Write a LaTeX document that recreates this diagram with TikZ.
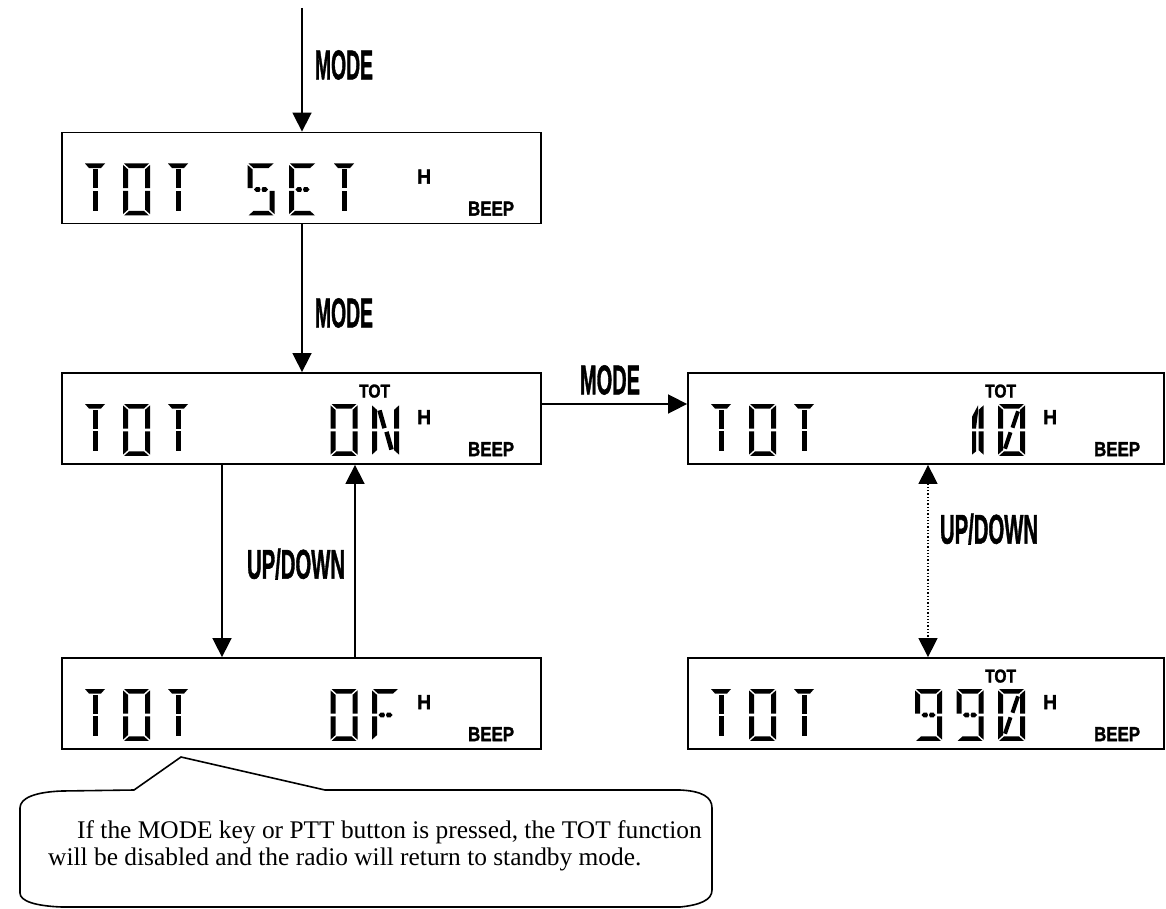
\documentclass[tikz,border=0pt]{standalone}
\usepackage{fontspec}
\setmainfont{Liberation Serif}
\newfontfamily\lsans[BoldFeatures={FakeBold=1.6}]{Liberation Sans}
\usepackage{graphicx}
\usetikzlibrary{arrows.meta,calc}
\newcommand\lbl[3]{\resizebox{#1pt}{#2pt}{\lsans\bfseries #3}}
% segments, local coordinates (y down), cell 27 x 57
\newcommand\segA{\fill (1,0)--(26,0)--(21,5)--(6,5)--cycle;}
\newcommand\segD{\fill (1,57)--(26,57)--(21,52)--(6,52)--cycle;}
\newcommand\segF{\fill (0,1.5)--(5,6.5)--(5,27)--(0,27)--cycle;}
\newcommand\segE{\fill (0,30)--(5,30)--(5,50.5)--(0,55.5)--cycle;}
\newcommand\segB{\fill (27,1.5)--(27,27)--(22,27)--(22,6.5)--cycle;}
\newcommand\segC{\fill (27,30)--(27,55.5)--(22,50.5)--(22,30)--cycle;}
\newcommand\segG{\fill (6.5,28.5)--(8.5,26)--(12,26)--(13,28.5)--(12,31)--(8.5,31)--cycle;
  \fill (14,28.5)--(15,26)--(18.5,26)--(20.5,28.5)--(18.5,31)--(15,31)--cycle;}
\newcommand\chT{\fill (3.5,0)--(23.5,0)--(19.5,5)--(7.5,5)--cycle;
  \fill (11,6.5)--(16,6.5)--(16,27)--(11,27)--cycle;
  \fill (11,30)--(16,30)--(16,52)--(11,52)--cycle;}
\newcommand\chO{\segA\segB\segC\segD\segE\segF}
\newcommand\chZ{\chO\draw[line width=4pt] (7,49)--(12.5,31) (14.5,26)--(20,8);}
\newcommand\chN{\segB\segC\segE\segF\draw[line width=4.5pt] (7.5,7)--(12.5,26.5) (14.5,30.5)--(19.5,50);}
\newcommand\chS{\segA\segF\segG\segC\segD}
\newcommand\chE{\segA\segF\segE\segG\segD}
\newcommand\chF{\segA\segF\segE\segG}
\newcommand\chNine{\segA\segB\segC\segD\segF\segG}
\newcommand\chOne{\segB\segC
  \fill (21.5,1.5)--(21.5,9)--(19.5,27)--(15.5,27)--(15.5,14)--cycle;
  \fill (15.5,30)--(19.5,30)--(19.5,52)--(15.5,55.5)--cycle;}
\newcommand\glyph[3]{\begin{scope}[shift={(#1,#2)},yscale=0.912]#3\end{scope}}
\begin{document}
\begin{tikzpicture}[x=1pt,y=-1pt,
  lcd/.style={draw,line width=1.8pt,minimum height=91pt,inner sep=0pt},
  lbox/.style={lcd,minimum width=479pt},
  rbox/.style={lcd,minimum width=476pt},
  arr/.style={line width=1.6pt,-{Triangle[width=19pt,length=19pt]}},
  darr/.style={line width=1.3pt,dotted,{Triangle[width=19pt,length=19pt]}-{Triangle[width=19pt,length=19pt]}},
  lab/.style={inner sep=0pt,anchor=center}]
\useasboundingbox (0,0) rectangle (1166,909);
% boxes
\node[lbox] (b1) at (301.5,178) {};
\node[lbox] (b2) at (301.5,418.5) {};
\node[lbox] (b3) at (301.5,703.5) {};
\node[rbox] (b4) at (926,418.5) {};
\node[rbox] (b5) at (926,703.5) {};
% small labels
\foreach \b in {b1,b2,b3,b4,b5}{
  \node[lab] (h\b) at ($(\b.north west)+(363,45)$) {\lbl{14}{14}{H}};
  \node[lab] (bp\b) at ($(\b.north west)+(430,77)$) {\lbl{46}{14}{BEEP}};
}
\foreach \b in {b2,b4,b5}{
  \node[lab] (t\b) at ($(\b.north west)+(313.5,19)$) {\lbl{31}{13}{TOT}};
}
% segment texts
% box1 TOT SET
\glyph{81.5}{163.5}{\chT}\glyph{123}{163.5}{\chO}\glyph{164.5}{163.5}{\chT}
\glyph{247.5}{163.5}{\chS}\glyph{289}{163.5}{\chE}\glyph{330.5}{163.5}{\chT}
% box2 TOT ON
\glyph{81.5}{404}{\chT}\glyph{123}{404}{\chO}\glyph{164.5}{404}{\chT}
\glyph{330.5}{404}{\chO}\glyph{372}{404}{\chN}
% box3 TOT OF
\glyph{81.5}{689}{\chT}\glyph{123}{689}{\chO}\glyph{164.5}{689}{\chT}
\glyph{330.5}{689}{\chO}\glyph{372}{689}{\chF}
% box4 TOT 10
\glyph{707.5}{404}{\chT}\glyph{749}{404}{\chO}\glyph{790.5}{404}{\chT}
\glyph{956.5}{404}{\chOne}\glyph{998}{404}{\chZ}
% box5 TOT 990
\glyph{707.5}{689}{\chT}\glyph{749}{689}{\chO}\glyph{790.5}{689}{\chT}
\glyph{915}{689}{\chNine}\glyph{956.5}{689}{\chNine}\glyph{998}{689}{\chZ}
% connectors
\coordinate (top) at (302,8);
\draw[arr] (top) -- (top |- b1.north);
\node[lab] (m1) at (344,65) {\lbl{58}{29}{MODE}};
\draw[arr] ([xshift=0.5pt]b1.south) -- ([xshift=0.5pt]b2.north);
\node[lab] (m2) at (344,313) {\lbl{58}{29}{MODE}};
\draw[arr] ([yshift=14.5pt]b2.east) -- ([yshift=14.5pt]b4.west);
\node[lab] (m3) at (610,380) {\lbl{60}{29}{MODE}};
\draw[arr] ([xshift=-79.5pt]b2.south) -- ([xshift=-79.5pt]b3.north);
\draw[arr] ([xshift=53.5pt]b3.north) -- ([xshift=53.5pt]b2.south);
\node[lab] (u1) at (296,564) {\lbl{98}{30}{UP/DOWN}};
\draw[darr] ([xshift=2pt]b4.south) -- ([xshift=2pt]b5.north);
\node[lab] (u2) at (989,529) {\lbl{98}{30}{UP/DOWN}};
% callout
\coordinate (tip) at (181,757);
\draw[line width=1.6pt] (134,790) -- (tip) -- (325,790) -- (680,790)
  .. controls (702,791) and (712,797) .. (712,808) -- (712,890)
  .. controls (712,900) and (700,905) .. (680,907) -- (62,907)
  .. controls (35,906) and (20,901) .. (20,893) -- (20,808)
  .. controls (20,798) and (35,792) .. (62,791) -- cycle;
\node[inner sep=0pt,anchor=base west,font=\fontsize{25.4}{28}\selectfont] (c1) at (77,838)
  {If the MODE key or PTT button is pressed, the TOT function};
\node[inner sep=0pt,anchor=base west,font=\fontsize{25.4}{28}\selectfont] (c2) at (48,865)
  {will be disabled and the radio will return to standby mode.};
\end{tikzpicture}
\end{document}
